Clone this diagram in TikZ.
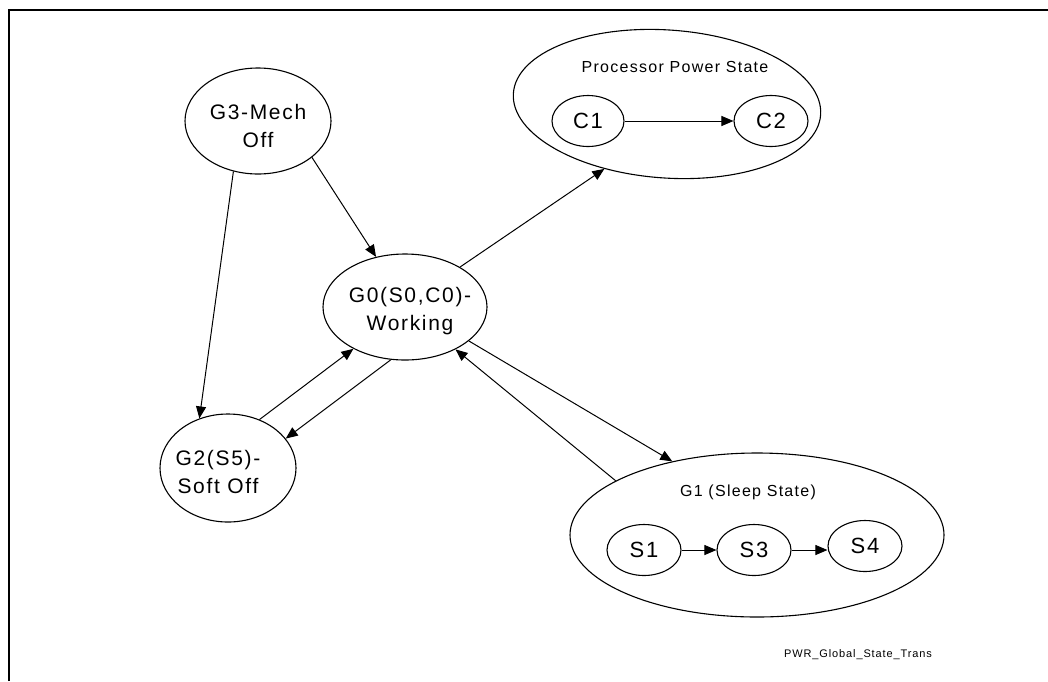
\documentclass[tikz,border=0pt]{standalone}
\usepackage{fontspec}
\setmainfont{Liberation Sans}[LetterSpace=8]
\usepackage{tikz}
\usetikzlibrary{arrows.meta,shapes.geometric}

\begin{document}
\begin{tikzpicture}[
    x=1pt, y=-1pt,
    >={Triangle[length=12pt,width=10pt]},
    state/.style={ellipse, draw, line width=1.1pt, inner sep=0pt},
    substate/.style={state, minimum width=74pt, minimum height=51pt, font=\fontsize{22}{26}\selectfont},
    statetext/.style={align=center, font=\fontsize{21}{28}\selectfont},
    grouptext/.style={font=\fontsize{16}{19}\selectfont},
    trans/.style={->, line width=1pt},
    frame/.style={line width=2.2pt}
]
\useasboundingbox (0,0) rectangle (1048,681);
\draw[frame] (9,681) -- (9,10) -- (1048,10);

% top level states
\node[state, minimum width=146pt, minimum height=106pt] (g3) at (258,121) {};
\node[statetext] (g3txt) at (258,126) {G3-Mech\\Off};
\node[state, minimum width=164pt, minimum height=106pt] (g0) at (405,307) {};
\node[statetext] (g0txt) at (410,311) {G0(S0,C0)-\\Working};
\node[state, minimum width=136pt, minimum height=108pt] (g2) at (228,468) {};
\node[statetext] (g2txt) at (218,472) {G2(S5)-\\Soft Off};

% processor power state
\node[state, minimum width=308pt, minimum height=148pt, rotate=-4] (pps) at (667,104) {};
\node[grouptext] (ppstxt) at (675,67) {Processor Power State};
\node[substate, minimum width=72pt] (c1) at (588,121) {C1};
\node[substate] (c2) at (771,121) {C2};

% sleep state
\node[state, minimum width=374pt, minimum height=164pt] (g1) at (757,535) {};
\node[grouptext] (g1txt) at (748,492) {G1 (Sleep State)};
\node[substate] (s1) at (644,550) {S1};
\node[substate] (s3) at (754,550) {S3};
\node[substate] (s4) at (865,546) {S4};

\node[font=\fontsize{11}{13}\selectfont] (tag) at (858,655) {PWR\_Global\_State\_Trans};

\draw[trans] (g3.-34) -- (g0.120);
\draw[trans] (g3.-116) -- (g2.120);
\draw[trans] (g0.36) -- (pps.-130);
\draw[trans] (g0.-28) -- (g1.139);
\draw[trans] (g1.159) -- (g0.-40);
\draw[trans] (g2.57) -- (g0.-141);
\draw[trans] (g0.-105) -- (g2.27);
\draw[trans] (c1) -- (c2);
\draw[trans] (s1) -- (s3);
\draw[trans] (s3.east) -- (s3.east -| s4.west);

\end{tikzpicture}
\end{document}
